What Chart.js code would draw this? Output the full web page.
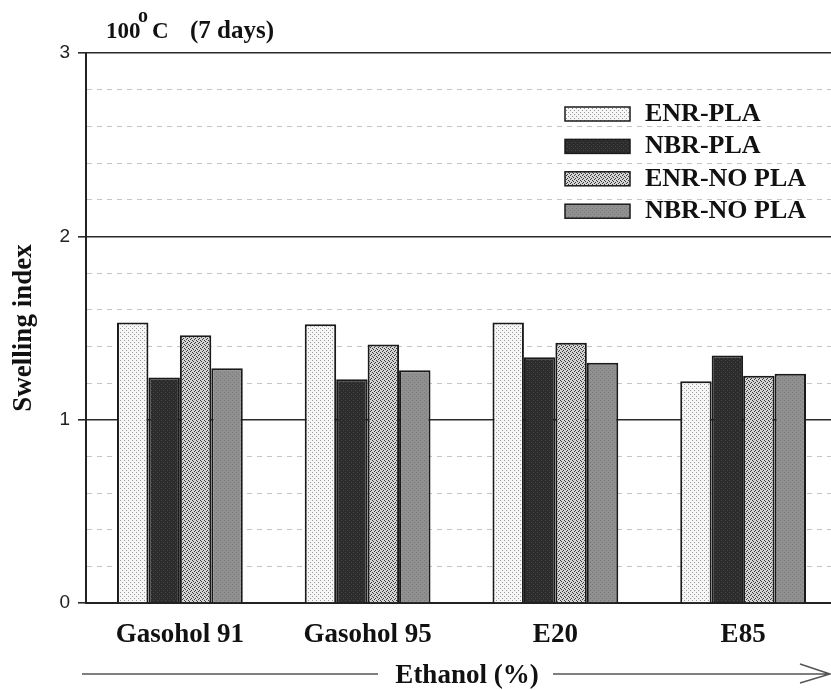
<!DOCTYPE html>
<html>
<head>
<meta charset="utf-8">
<script src="https://cdn.jsdelivr.net/npm/chart.js@4/dist/chart.umd.min.js"></script>
<style>
    html, body { margin: 0; padding: 0; background: #fff; overflow: hidden; }
    #wrap { width: 837px; height: 690px; position: relative; }
</style>
</head>
<body>
<div id="wrap"><canvas id="swell"></canvas></div>
<script>
// ========================================
// Data
// ========================================
const categories = ['Gasohol 91', 'Gasohol 95', 'E20', 'E85'];
const seriesNames = ['ENR-PLA', 'NBR-PLA', 'ENR-NO PLA', 'NBR-NO PLA'];
const enrPla = [1.53, 1.52, 1.53, 1.21];
const nbrPla = [1.23, 1.22, 1.34, 1.35];
const enrNoPla = [1.46, 1.41, 1.42, 1.24];
const nbrNoPla = [1.28, 1.27, 1.31, 1.25];
const yMin = 0;
const yMax = 3;
const yStep = 0.2;

const SERIF = '"Liberation Serif", "Times New Roman", serif';
const SANS = '"Liberation Sans", Arial, sans-serif';

// Small texture tiles for the bar fills
const makePattern = (bg, fg, pts, size) => {
    const c = document.createElement('canvas');
    c.width = size;
    c.height = size;
    const g = c.getContext('2d');
    g.fillStyle = bg;
    g.fillRect(0, 0, size, size);
    g.fillStyle = fg;
    pts.forEach(p => g.fillRect(p[0], p[1], 1, 1));
    return g.createPattern(c, 'repeat');
};

const fills = [
    makePattern('#f6f6f6', '#9a9a9a', [[0, 0], [2, 2]], 4),
    makePattern('#2c2c2c', '#474747', [[1, 0], [3, 2]], 4),
    makePattern('#d4d4d4', '#3a3a3a', [[0, 0], [1, 1], [3, 2], [2, 3]], 4),
    makePattern('#909090', '#7a7a7a', [[0, 0], [2, 2]], 4)
];

const isMajor = v => Math.abs(v - Math.round(v)) < 1e-6;

// Title with raised "o"
const titlePlugin = {
    id: 'titleText',
    afterDraw(chart) {
        const ctx = chart.ctx;
        ctx.save();
        ctx.fillStyle = '#111';
        ctx.textBaseline = 'alphabetic';
        ctx.textAlign = 'left';
        ctx.font = 'bold 23px ' + SERIF;
        ctx.fillText('100', 106, 38);
        ctx.font = 'bold 20px ' + SERIF;
        ctx.fillText('o', 138, 22);
        ctx.font = 'bold 23px ' + SERIF;
        ctx.fillText('C', 152, 38);
        ctx.font = 'bold 25px ' + SERIF;
        ctx.fillText('(7 days)', 190, 38);
        ctx.restore();
    }
};

// Legend inside the plot, upper right
const legendPlugin = {
    id: 'innerLegend',
    afterDatasetsDraw(chart) {
        const ctx = chart.ctx;
        ctx.save();
        chart.data.datasets.forEach((ds, i) => {
            const y = 114 + i * 32.4;
            ctx.fillStyle = ds.backgroundColor;
            ctx.fillRect(565, y - 7, 65, 14);
            ctx.lineWidth = 1.5;
            ctx.strokeStyle = '#1a1a1a';
            ctx.strokeRect(565, y - 7, 65, 14);
            ctx.fillStyle = '#111';
            ctx.font = 'bold 26px ' + SERIF;
            ctx.textBaseline = 'middle';
            ctx.textAlign = 'left';
            ctx.fillText(ds.label, 645, y);
        });
        ctx.restore();
    }
};

// "Ethanol (%)" with the long arrow under the axis
const arrowPlugin = {
    id: 'arrowTitle',
    afterDraw(chart) {
        const ctx = chart.ctx;
        const y = 674;
        ctx.save();
        ctx.strokeStyle = '#555';
        ctx.lineWidth = 1.5;
        ctx.beginPath();
        ctx.moveTo(82, y);
        ctx.lineTo(378, y);
        ctx.moveTo(553, y);
        ctx.lineTo(829, y);
        ctx.moveTo(800, y - 10);
        ctx.lineTo(830, y);
        ctx.lineTo(800, y + 9);
        ctx.stroke();
        ctx.fillStyle = '#111';
        ctx.font = 'bold 27px ' + SERIF;
        ctx.textAlign = 'center';
        ctx.textBaseline = 'alphabetic';
        ctx.fillText('Ethanol (%)', 467, 683);
        ctx.restore();
    }
};

const seriesValues = [enrPla, nbrPla, enrNoPla, nbrNoPla];

const chartData = {
    labels: categories,
    datasets: seriesNames.map((name, i) => ({
        label: name,
        data: seriesValues[i],
        backgroundColor: fills[i],
        borderColor: '#1a1a1a',
        borderWidth: 2,
        categoryPercentage: 0.67,
        barPercentage: 1.0
    }))
};

new Chart(document.getElementById('swell').getContext('2d'), {
    type: 'bar',
    data: chartData,
    options: {
        responsive: true,
        maintainAspectRatio: false,
        animation: false,
        layout: { padding: { top: 53, left: 0, right: 0, bottom: 0 } },
        plugins: {
            legend: { display: false },
            tooltip: { enabled: false }
        },
        scales: {
            x: {
                grid: { display: false },
                border: { display: true, color: '#222', width: 2 },
                ticks: {
                    color: '#111',
                    font: { family: SERIF, size: 27, weight: 'bold' },
                    padding: 8,
                    maxRotation: 0
                },
                afterFit: scale => { scale.height = 87; }
            },
            y: {
                min: yMin,
                max: yMax,
                ticks: {
                    stepSize: yStep,
                    color: '#222',
                    font: { family: SANS, size: 19 },
                    padding: 8,
                    callback: v => isMajor(v) ? String(Math.round(v)) : ''
                },
                grid: {
                    color: c => isMajor(c.tick.value) ? '#2a2a2a' : '#c4c4c4',
                    lineWidth: c => isMajor(c.tick.value) ? 1.6 : 1,
                    tickColor: c => isMajor(c.tick.value) ? '#2a2a2a' : 'rgba(0,0,0,0)',
                    tickLength: 8
                },
                border: {
                    display: true,
                    color: '#222',
                    width: 2,
                    dash: c => (c.tick && !isMajor(c.tick.value)) ? [5, 5] : []
                },
                title: {
                    display: true,
                    text: 'Swelling index',
                    color: '#111',
                    font: { family: SERIF, size: 27, weight: 'bold' },
                    padding: { top: 8, bottom: 0 }
                },
                afterFit: scale => { scale.width = 86; }
            }
        }
    },
    plugins: [titlePlugin, legendPlugin, arrowPlugin]
});
</script>
</body>
</html>
